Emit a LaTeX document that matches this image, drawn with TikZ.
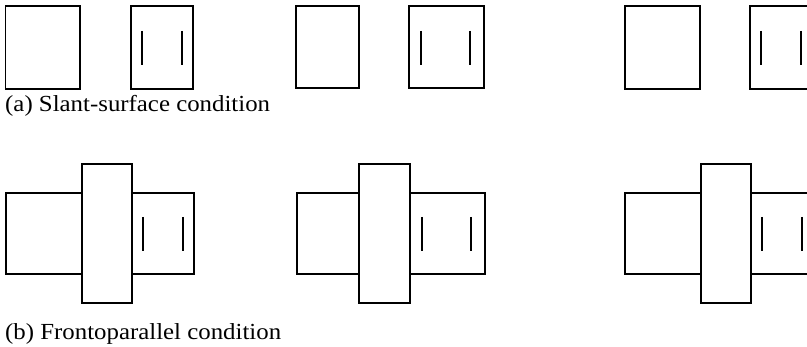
\documentclass[tikz,border=0pt]{standalone}
\usepackage{fontspec}
\setmainfont{Liberation Serif}
\begin{document}
\begin{tikzpicture}[x=1pt,y=-1pt,
  frame/.style={draw=black,line width=1.8pt,fill=white},
  bar/.style={draw=black,line width=1.8pt},
  caption/.style={anchor=base west,inner sep=0pt,font=\fontsize{23}{26}\selectfont,xscale=1.08}]
\useasboundingbox (0,0) rectangle (807,347);
\clip (0,0) rectangle (807,347);

% --- (a) slant-surface condition: pairs of separate panels ---
% pair 1
\draw[frame] (5.5,6) rectangle (80,89);
\draw[frame] (131,6) rectangle (193,89);
\draw[bar] (142,31) -- (142,65);
\draw[bar] (182,31) -- (182,65);
% pair 2
\draw[frame] (296,6) rectangle (359,88);
\draw[frame] (409,6) rectangle (484,88);
\draw[bar] (421,31) -- (421,65);
\draw[bar] (470,31) -- (470,65);
% pair 3
\draw[frame] (625,6) rectangle (700,89);
\draw[frame] (750,6) rectangle (813,89);
\draw[bar] (761,31) -- (761,65);
\draw[bar] (801,31) -- (801,65);

\node[caption] (capa) at (5,112) {(a) Slant-surface condition};

% --- (b) frontoparallel condition: panels behind an occluding strip ---
% pair 1
\draw[frame] (6,193) rectangle (82,274);
\draw[frame] (132,193) rectangle (194,274);
\draw[bar] (143,217) -- (143,251);
\draw[bar] (183,217) -- (183,251);
\draw[frame] (82,164) rectangle (132,303);
% pair 2
\draw[frame] (297,193) rectangle (359,274);
\draw[frame] (410,193) rectangle (485,274);
\draw[bar] (422,217) -- (422,251);
\draw[bar] (471,217) -- (471,251);
\draw[frame] (359,164) rectangle (410,303);
% pair 3
\draw[frame] (625,193) rectangle (701,274);
\draw[frame] (751,193) rectangle (815,274);
\draw[bar] (762,217) -- (762,251);
\draw[bar] (802,217) -- (802,251);
\draw[frame] (701,164) rectangle (751,303);

\node[caption] (capb) at (5,340) {(b) Frontoparallel condition};
\end{tikzpicture}
\end{document}
